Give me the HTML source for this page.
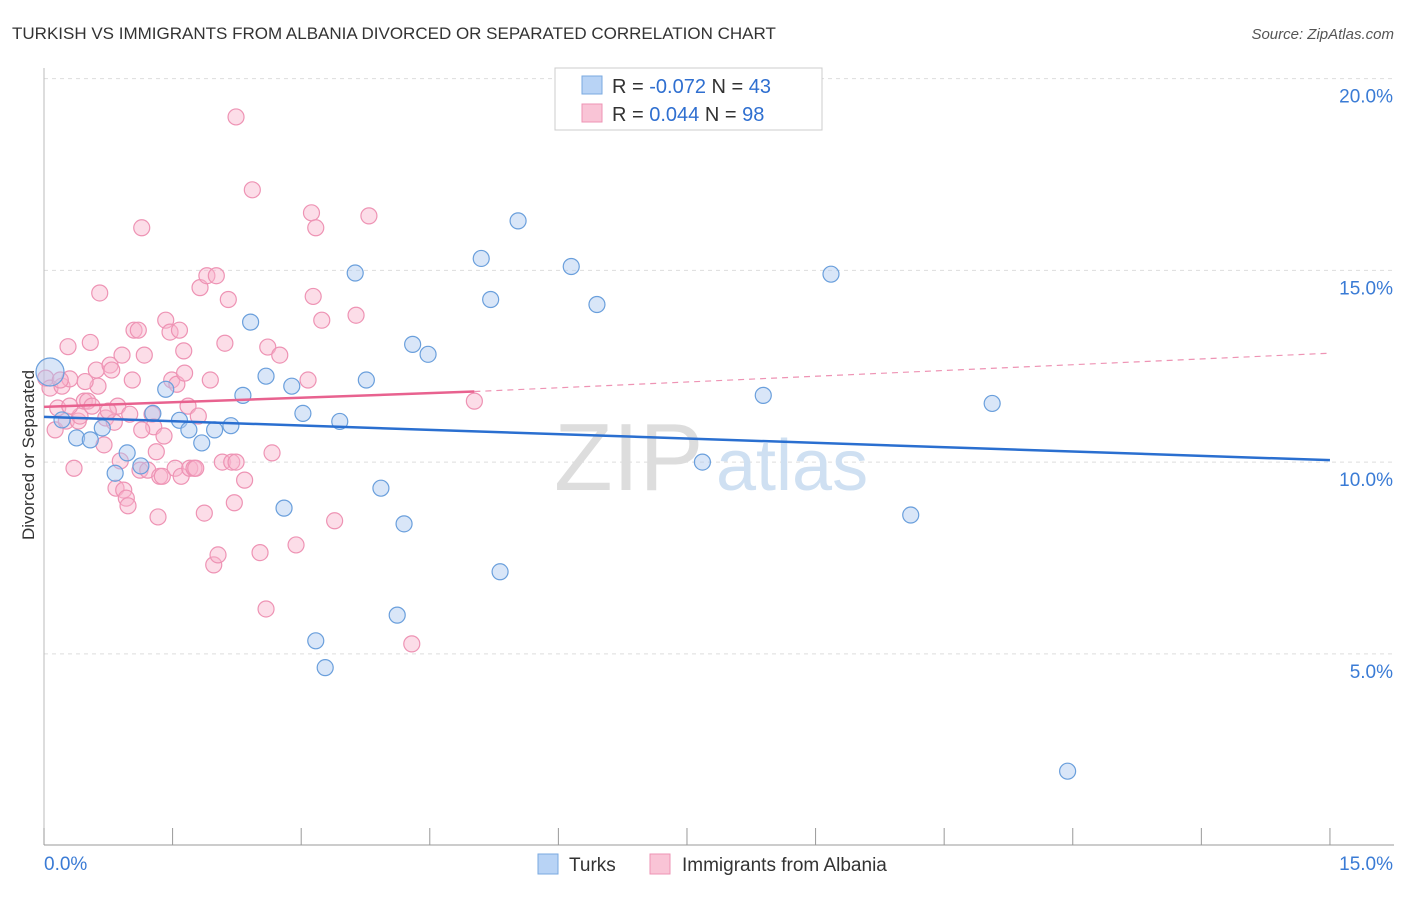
<!DOCTYPE html>
<html><head><meta charset="utf-8"><style>
body{margin:0;background:#fff;font-family:"Liberation Sans",sans-serif;}
svg text{font-family:"Liberation Sans",sans-serif;}
</style></head><body>
<svg width="1406" height="892" viewBox="0 0 1406 892">
<text x="12" y="39" font-size="17" fill="#333">TURKISH VS IMMIGRANTS FROM ALBANIA DIVORCED OR SEPARATED CORRELATION CHART</text>
<text x="1394" y="39" font-size="15" fill="#555" text-anchor="end" font-style="italic">Source: ZipAtlas.com</text>
<text x="34" y="455" font-size="17" fill="#333" text-anchor="middle" transform="rotate(-90 34 455)">Divorced or Separated</text>
<g id="grid"></g>
<g id="axes"></g>
<text x="554" y="490" font-size="96" fill="#ddd" font-family="Liberation Serif">ZIP</text>
<text x="716" y="490" font-size="72" fill="#cfe0f2">atlas</text>
<g id="pts"></g>
<g id="lines"></g>
<g>
<rect x="555" y="68" width="267" height="62" fill="#fff" stroke="#ccc"/>
<rect x="582" y="76" width="20" height="18" fill="#b8d3f5" stroke="#7aa9e0"/>
<rect x="582" y="104" width="20" height="18" fill="#f9c4d6" stroke="#ee93b4"/>
<text x="612" y="93" font-size="20" fill="#333">R = <tspan fill="#2f6fd0">-0.072</tspan>   N = <tspan fill="#2f6fd0">43</tspan></text>
<text x="612" y="121" font-size="20" fill="#333">R =  <tspan fill="#2f6fd0">0.044</tspan>   N = <tspan fill="#2f6fd0">98</tspan></text>
</g>
<g>
<rect x="538" y="854" width="20" height="20" fill="#b8d3f5" stroke="#7aa9e0"/>
<text x="569" y="871" font-size="19" fill="#333">Turks</text>
<rect x="650" y="854" width="20" height="20" fill="#f9c4d6" stroke="#ee93b4"/>
<text x="682" y="871" font-size="19" fill="#333">Immigrants from Albania</text>
</g>
</svg>
<script>
const yTicks=[5,10,15,20];
const xTickLabels=["0.0%","15.0%"];
const turksX=[0.07,0.21,0.38,0.54,0.68,0.83,0.97,1.13,1.27,1.42,1.58,1.69,1.84,1.99,2.18,2.32,2.41,2.59,2.80,2.89,3.02,3.17,3.28,3.45,3.63,3.76,3.93,4.20,4.12,4.30,4.48,5.10,5.21,5.32,5.53,6.15,6.45,7.68,8.39,9.18,10.11,11.06,11.94];
const turksY=[12.35,11.10,10.63,10.58,10.89,9.71,10.24,9.90,11.27,11.90,11.09,10.84,10.50,10.84,10.95,11.74,13.65,12.24,8.80,11.98,11.27,5.34,4.64,11.06,14.93,12.14,9.32,8.39,6.01,13.07,12.81,15.31,14.24,7.14,16.29,15.10,14.11,10.00,11.74,14.90,8.62,11.53,1.94];
const albX=[0.02,0.07,0.13,0.16,0.21,0.26,0.28,0.30,0.35,0.40,0.42,0.47,0.51,0.54,0.56,0.61,0.63,0.65,0.70,0.72,0.77,0.79,0.82,0.84,0.86,0.89,0.91,0.93,0.96,0.98,1.00,1.03,1.05,1.10,1.12,1.14,1.17,1.21,1.26,1.28,1.31,1.33,1.35,1.38,1.40,1.42,1.47,1.49,1.53,1.55,1.58,1.60,1.63,1.64,1.68,1.70,1.75,1.77,1.80,1.82,1.87,1.90,1.94,1.98,2.01,2.03,2.08,2.11,2.15,2.19,2.22,2.24,2.24,2.34,2.43,2.52,2.59,2.61,2.66,2.75,2.94,3.08,3.12,3.14,3.17,3.24,3.39,3.64,3.79,4.29,5.02,0.30,0.19,0.48,0.75,1.14];
const albY=[12.19,11.93,10.84,11.41,11.98,11.07,13.01,12.17,9.84,11.07,11.20,11.59,11.59,13.12,11.46,12.40,11.98,14.41,10.45,11.15,12.53,12.40,11.04,9.32,11.46,10.03,12.79,9.27,9.06,8.86,11.25,12.14,13.44,13.44,9.79,16.11,12.79,9.79,11.25,10.92,10.27,8.57,9.63,9.63,10.68,13.70,13.39,12.14,9.84,12.03,13.44,9.63,12.90,12.32,11.46,9.84,9.84,9.84,11.20,14.55,8.67,14.86,12.14,7.32,14.86,7.58,10.00,13.10,14.24,10.00,8.94,19.00,10.00,9.53,17.10,7.64,6.17,13.00,10.24,12.79,7.84,12.14,16.50,14.32,16.11,13.70,8.47,13.83,16.42,5.26,11.59,11.46,12.14,12.10,11.33,10.84,11.20];
const turksTrend=[11.18,10.05];
const albTrendA=[11.44,11.84];
const albTrendB=[11.84,12.84];
const X=v=>44+v*85.73, Y=v=>845.6-v*38.35;
const NS="http://www.w3.org/2000/svg";
function mk(t,a,p){const e=document.createElementNS(NS,t);for(const k in a)e.setAttribute(k,a[k]);p.appendChild(e);return e;}
const grid=document.getElementById('grid'),axes=document.getElementById('axes');
yTicks.forEach(t=>{const l=mk('line',{x1:44,x2:1394,y1:Y(t),y2:Y(t),stroke:'#ddd','stroke-dasharray':'4,4'},grid);


const tx=mk('text',{x:1393,y:Y(t)+24,'font-size':19,fill:'#3a7bd5','text-anchor':'end'},axes);tx.textContent=t.toFixed(1)+'%';

});
mk('line',{x1:44,x2:1394,y1:845,y2:845,stroke:'#999'},axes);
mk('line',{x1:44,x2:44,y1:68,y2:845,stroke:'#bbb'},axes);
for(let i=0;i<=10;i++){const t=mk('line',{x1:X(i*1.5),x2:X(i*1.5),y1:828,y2:845,stroke:'#999'},axes);

}
[[0,44,'start'],[1,1393,'end']].forEach(([i,x,a])=>{const t=mk('text',{x:x,y:870,'font-size':19,fill:'#3a7bd5','text-anchor':a},axes);t.textContent=xTickLabels[i];

});
const pts=document.getElementById('pts');
albX.forEach((v,i)=>{const c=mk('circle',{cx:X(v),cy:Y(albY[i]),r:8,fill:'rgba(248,180,205,0.45)',stroke:'#ee93b4','stroke-width':1.2},pts);

});
turksX.forEach((v,i)=>{const c=mk('circle',{cx:X(v),cy:Y(turksY[i]),r:i==0?14:8,fill:'rgba(170,200,240,0.45)',stroke:'#6a9fdc','stroke-width':1.2},pts);

});
const ln=document.getElementById('lines');
let l=mk('line',{x1:X(0),y1:Y(turksTrend[0]),x2:X(15),y2:Y(turksTrend[1]),stroke:'#2a6fd0','stroke-width':2.5},ln);


l=mk('line',{x1:X(0),y1:Y(albTrendA[0]),x2:X(5.02),y2:Y(albTrendA[1]),stroke:'#e8628f','stroke-width':2.5},ln);


l=mk('line',{x1:X(5.02),y1:Y(albTrendB[0]),x2:X(15),y2:Y(albTrendB[1]),stroke:'#ee93b4','stroke-width':1.2,'stroke-dasharray':'6,5'},ln);


</script>
</body></html>
